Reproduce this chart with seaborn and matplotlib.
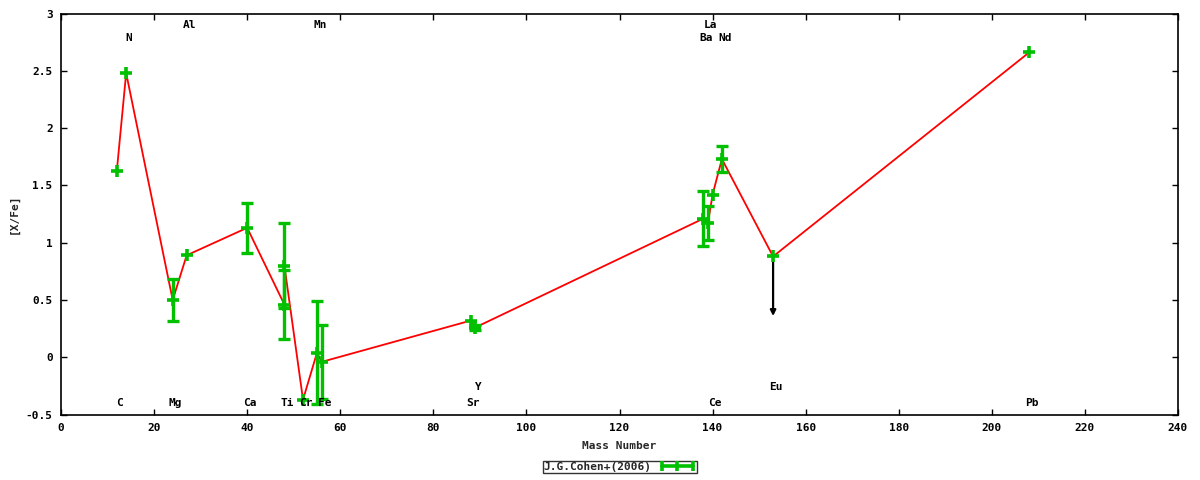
import numpy as np
import pandas as pd
import matplotlib
matplotlib.use("Agg")
import matplotlib.pyplot as plt
from matplotlib.lines import Line2D
import seaborn as sns

# ---- data ----
elements = ["C", "N", "Mg", "Al", "Ca", "Ti", "Ti", "Cr", "Mn", "Fe",
            "Sr", "Y", "Ba", "La", "Ce", "Nd", "Eu", "Pb"]
mass = [12, 14, 24, 27, 40, 48, 48, 52, 55, 56,
        88, 89, 138, 139, 140, 142, 153, 208]
xfe = [1.63, 2.48, 0.50, 0.89, 1.13, 0.46, 0.80, -0.37, 0.04, -0.04,
       0.32, 0.26, 1.21, 1.17, 1.42, 1.73, 0.88, 2.66]
err = [np.nan, np.nan, 0.18, np.nan, 0.22, 0.30, 0.37, np.nan, 0.45, 0.32,
       np.nan, 0.02, 0.24, 0.15, np.nan, 0.11, np.nan, np.nan]
upper_limit = [False] * 16 + [True, False]

label_names = ["C", "N", "Mg", "Al", "Ca", "Ti", "Cr", "Mn", "Fe",
               "Sr", "Y", "Ba", "La", "Ce", "Nd", "Eu", "Pb"]
label_mass = [12, 14, 24, 27, 40, 48, 52, 55, 56,
              88, 89, 138, 139, 140, 142, 153, 208]
# row: 0 bottom, 1 bottom-upper, 2 top-lower, 3 top-upper
label_row = [0, 2, 0, 3, 0, 0, 0, 3, 0,
             0, 1, 2, 3, 0, 2, 1, 0]
row_y = {0: -0.40, 1: -0.26, 2: 2.79, 3: 2.90}

series_name = "J.G.Cohen+(2006)"

df = pd.DataFrame({"mass": mass, "xfe": xfe, "err": err})

# ---- style ----
sns.set_theme(style="ticks")
plt.rcParams["font.family"] = ["DejaVu Sans Mono"]
plt.rcParams["font.weight"] = "bold"
plt.rcParams["font.size"] = 8

GREEN = "#00c000"
RED = "#ff0000"

fig = plt.figure(figsize=(12, 4.8), dpi=100)
ax = fig.add_axes([61 / 1200, 1 - 414.6 / 480, (1178 - 61) / 1200, (414.6 - 13.5) / 480])

sns.lineplot(data=df, x="mass", y="xfe", sort=False, estimator=None,
             color=RED, lw=1.3, ax=ax, zorder=2)

# upper-limit arrows
for m, v, ul in zip(mass, xfe, upper_limit):
    if ul:
        ax.annotate("", xy=(m, v - 0.52), xytext=(m, v),
                    arrowprops=dict(arrowstyle="-|>", color="black", lw=1.6,
                                    mutation_scale=8, shrinkA=0, shrinkB=0),
                    zorder=3)

e = df["err"].to_numpy()
has = ~np.isnan(e)
ax.errorbar(df["mass"][has], df["xfe"][has], yerr=e[has], fmt="none",
            ecolor=GREEN, elinewidth=2.4, capsize=4, capthick=2.4, zorder=4)
ax.plot(df["mass"], df["xfe"], ls="none", marker="+", ms=9, mew=2.6,
        color=GREEN, zorder=5)

# element labels
for name, m, r in zip(label_names, label_mass, label_row):
    ax.annotate(name, xy=(m, row_y[r]), xytext=(2, 0), textcoords="offset points",
                ha="center", va="center", fontsize=8, fontweight="bold",
                color="black", zorder=6)

ax.set_xlim(0, 240)
ax.set_ylim(-0.5, 3)
ax.set_xticks(np.arange(0, 241, 20))
ax.set_yticks(np.arange(-0.5, 3.01, 0.5))
ax.set_yticklabels(["-0.5", "0", "0.5", "1", "1.5", "2", "2.5", "3"])
ax.tick_params(direction="in", length=4, width=1, top=True, right=True,
               labelsize=8, pad=6, colors="black")
for lab in ax.get_xticklabels() + ax.get_yticklabels():
    lab.set_fontweight("bold")
for s in ax.spines.values():
    s.set_visible(True)
    s.set_color("black")
    s.set_linewidth(1.2)

ax.set_xlabel("Mass Number", fontsize=8, fontweight="bold", labelpad=6)
ax.set_ylabel("[X/Fe]", fontsize=8, fontweight="bold", labelpad=5)

handle = Line2D([0, 1], [0, 0], color=GREEN, lw=2.6, marker="|", ms=7, mew=2.6)
leg = fig.legend([handle], [series_name], loc="center",
                 bbox_to_anchor=(620 / 1200, 1 - 467 / 480), frameon=True,
                 fancybox=False, edgecolor="black", numpoints=3,
                 markerfirst=False, handlelength=3.4, borderpad=0.1,
                 handletextpad=0.6, prop={"family": "DejaVu Sans Mono",
                                          "weight": "bold", "size": 8})
leg.get_frame().set_linewidth(1.0)

fig.savefig("out.png", dpi=100)
